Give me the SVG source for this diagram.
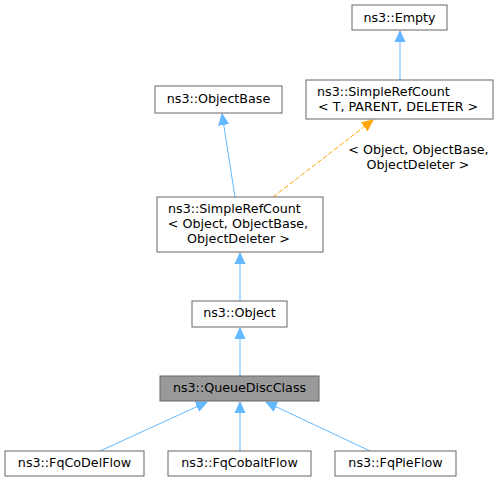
<svg xmlns="http://www.w3.org/2000/svg" width="499" height="481" viewBox="0 0 499 481">
<defs>
<style>
.n rect{fill:#fff;stroke:#666;stroke-width:1}
.n.h rect{fill:#999}
text{font-family:"DejaVu Sans",sans-serif;font-size:12.7px;fill:#000}
.c{text-anchor:middle}
.e{fill:none;stroke:#63b8ff;stroke-width:1}
.d{fill:none;stroke:#ffa500;stroke-width:1;stroke-dasharray:5,2}
</style>
<marker id="ab" markerWidth="12" markerHeight="12" refX="11" refY="5" orient="auto" markerUnits="userSpaceOnUse" viewBox="0 0 12 10">
<path d="M0,0 L11,5 L0,10 Z" fill="#63b8ff" stroke="#63b8ff"/>
</marker>
<marker id="ao" markerWidth="12" markerHeight="12" refX="11" refY="5" orient="auto" markerUnits="userSpaceOnUse" viewBox="0 0 12 10">
<path d="M0,0 L11,5 L0,10 Z" fill="#ffa500" stroke="#ffa500"/>
</marker>
</defs>
<rect width="499" height="481" fill="#fff"/>
<g id="connectors">
<path class="e" d="M400,80 L400,31" marker-end="url(#ab)"/>
<path class="e" d="M235,197 L222,114" marker-end="url(#ab)"/>
<path class="d" d="M273,197 L373,120" marker-end="url(#ao)"/>
<path class="e" d="M240,301 L240,253" marker-end="url(#ab)"/>
<path class="e" d="M240,376 L240,328" marker-end="url(#ab)"/>
<path class="e" d="M100,451 L207,402" marker-end="url(#ab)"/>
<path class="e" d="M240,451 L240,402" marker-end="url(#ab)"/>
<path class="e" d="M370,451 L266,402" marker-end="url(#ab)"/>
<text class="c" x="418.5" y="154">&lt; Object, ObjectBase,</text>
<text class="c" x="418" y="168.5">ObjectDeleter &gt;</text>
</g>
<g id="empty" class="n"><rect x="352" y="5" width="95" height="25"/><text class="c" x="399.5" y="22">ns3::Empty</text></g>
<g id="srcT" class="n"><rect x="306" y="80" width="187" height="39"/><text x="317" y="96">ns3::SimpleRefCount</text><text x="318" y="111">&lt; T, PARENT, DELETER &gt;</text></g>
<g id="objectbase" class="n"><rect x="155" y="86" width="127" height="27"/><text class="c" x="218.5" y="103">ns3::ObjectBase</text></g>
<g id="srcObj" class="n"><rect x="157" y="197" width="166" height="55"/><text x="168" y="213">ns3::SimpleRefCount</text><text class="c" x="238" y="228">&lt; Object, ObjectBase,</text><text class="c" x="238.5" y="243">ObjectDeleter &gt;</text></g>
<g id="object" class="n"><rect x="192" y="301" width="95" height="26"/><text class="c" x="239.5" y="317">ns3::Object</text></g>
<g id="qdc" class="n h"><rect x="160" y="376" width="159" height="25"/><text class="c" x="239.5" y="392">ns3::QueueDiscClass</text></g>
<g id="codel" class="n"><rect x="5" y="451" width="139" height="25"/><text class="c" x="74.5" y="467">ns3::FqCoDelFlow</text></g>
<g id="cobalt" class="n"><rect x="168" y="451" width="143" height="25"/><text class="c" x="239.5" y="467">ns3::FqCobaltFlow</text></g>
<g id="pie" class="n"><rect x="335" y="451" width="121" height="25"/><text class="c" x="395.5" y="467">ns3::FqPieFlow</text></g>
</svg>
